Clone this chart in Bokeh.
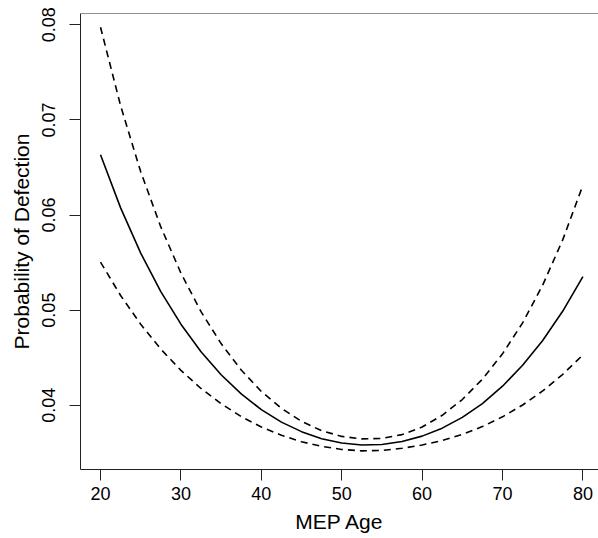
from bokeh.plotting import figure
from bokeh.models import Range1d, FixedTicker, Span
from bokeh.embed import file_html
from bokeh.resources import INLINE

# Data (predicted probability and its confidence band)
age = [20, 22.5, 25, 27.5, 30, 32.5, 35, 37.5, 40, 42.5, 45, 47.5, 50,
       52.5, 55, 57.5, 60, 62.5, 65, 67.5, 70, 72.5, 75, 77.5, 80]
prob_fit = [0.06633, 0.06075, 0.05599, 0.05195, 0.04852, 0.04563, 0.04320, 0.04119, 0.03954, 0.03822,
            0.03722, 0.03648, 0.03603, 0.03582, 0.03587, 0.03618, 0.03675, 0.03759, 0.03872, 0.04017,
            0.04200, 0.04420, 0.04680, 0.04990, 0.05352]
prob_upper = [0.07975, 0.07149, 0.06455, 0.05875, 0.05389, 0.04984, 0.04648, 0.04370, 0.04145, 0.03967,
              0.03830, 0.03732, 0.03672, 0.03646, 0.03651, 0.03691, 0.03771, 0.03894, 0.04060, 0.04274,
              0.04540, 0.04866, 0.05263, 0.05741, 0.06314]
prob_lower = [0.05504, 0.05154, 0.04851, 0.04590, 0.04366, 0.04176, 0.04015, 0.03881, 0.03771, 0.03684,
              0.03616, 0.03567, 0.03535, 0.03520, 0.03525, 0.03547, 0.03581, 0.03629, 0.03693, 0.03775,
              0.03878, 0.04002, 0.04150, 0.04325, 0.04529]
x_ticks = [20, 30, 40, 50, 60, 70, 80]
y_ticks = [0.04, 0.05, 0.06, 0.07, 0.08]

FONT = "Liberation Sans"
Y0, Y1 = 0.03324, 0.08119

p = figure(width=598, height=538, output_backend="svg", toolbar_location=None,
           x_range=Range1d(17.51, 81.94), y_range=Range1d(Y0, Y1),
           min_border_left=80, min_border_right=0, min_border_top=13, min_border_bottom=69,
           x_axis_label="MEP Age", y_axis_label="Probability of Defection")
p.outline_line_color = None
p.grid.visible = False
p.background_fill_color = "white"
p.border_fill_color = "white"

for ax in (p.xaxis[0], p.yaxis[0]):
    ax.axis_line_color = "#222222"
    ax.axis_line_width = 1
    ax.major_tick_line_color = "#222222"
    ax.major_tick_in = 0
    ax.major_tick_out = 11
    ax.minor_tick_line_color = None
    ax.major_label_text_font = FONT
    ax.major_label_text_font_size = "18px"
    ax.major_label_text_color = "black"
    ax.axis_label_text_font = FONT
    ax.axis_label_text_font_size = "21px"
    ax.axis_label_text_font_style = "normal"
    ax.axis_label_text_color = "black"

p.xaxis.ticker = FixedTicker(ticks=x_ticks)
p.yaxis.ticker = FixedTicker(ticks=y_ticks)
p.xaxis.major_label_standoff = 6
p.xaxis.axis_label_standoff = 7
p.yaxis.major_label_standoff = 14
p.yaxis.axis_label_standoff = 7
p.yaxis.major_label_orientation = "vertical"

p.add_layout(Span(location=Y1, dimension="width", line_color="#222222", line_width=1))

p.line(age, prob_fit, line_color="black", line_width=1.6)
p.line(age, prob_upper, line_color="black", line_width=1.6, line_dash="7 5")
p.line(age, prob_lower, line_color="black", line_width=1.6, line_dash="7 5")

open("out.html", "w").write(file_html(p, INLINE))
